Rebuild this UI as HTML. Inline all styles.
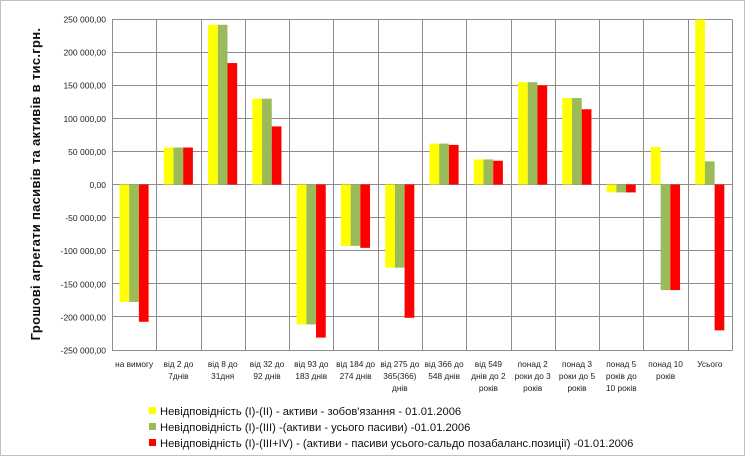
<!DOCTYPE html>
<html><head><meta charset="utf-8"><style>
html,body{margin:0;padding:0;background:#fff;}
svg{display:block;font-family:"Liberation Sans","DejaVu Sans",sans-serif;}
</style></head><body>
<svg width="745" height="456" viewBox="0 0 745 456" xmlns="http://www.w3.org/2000/svg">
<rect x="0.5" y="0.5" width="744" height="455" fill="#fff" stroke="#bfbfbf"/>
<g stroke="#8c8c8c" stroke-width="1">
<line x1="112" y1="19.5" x2="732" y2="19.5"/>
<line x1="112" y1="52.5" x2="732" y2="52.5"/>
<line x1="112" y1="85.5" x2="732" y2="85.5"/>
<line x1="112" y1="118.5" x2="732" y2="118.5"/>
<line x1="112" y1="151.5" x2="732" y2="151.5"/>
<line x1="112" y1="184.5" x2="732" y2="184.5"/>
<line x1="112" y1="217.5" x2="732" y2="217.5"/>
<line x1="112" y1="250.5" x2="732" y2="250.5"/>
<line x1="112" y1="283.5" x2="732" y2="283.5"/>
<line x1="112" y1="316.5" x2="732" y2="316.5"/>
<line x1="112" y1="350.5" x2="732" y2="350.5"/>
</g>
<g stroke="#8c8c8c" stroke-width="1" id="vg"></g>
<g id="bars"></g>
<g font-size="8.5" fill="#222" text-anchor="end" id="yl"></g>
<text transform="translate(40,184) rotate(-90)" text-anchor="middle" font-size="13" font-weight="bold" fill="#111" letter-spacing="0.3">Грошові агрегати  пасивів та активів  в тис.грн.</text>
<g font-size="8.3" fill="#222" text-anchor="middle" id="xl"></g>
<g font-size="11.2" fill="#111">
<rect x="149" y="407" width="7" height="7" fill="#ffff00"/>
<text x="160" y="415">Невідповідність (I)-(II) - активи - зобов'язання - 01.01.2006</text>
<rect x="149" y="423" width="7" height="7" fill="#9bbb59"/>
<text x="160" y="431">Невідповідність (I)-(III) -(активи - усього пасиви) -01.01.2006</text>
<rect x="149" y="439" width="7" height="7" fill="#ff0000"/>
<text x="160" y="447">Невідповідність (I)-(III+IV) - (активи - пасиви усього-сальдо позабаланс.позиції) -01.01.2006</text>
</g>
<script>
var ns="http://www.w3.org/2000/svg";
function el(t,a,p,txt){var e=document.createElementNS(ns,t);for(var k in a)e.setAttribute(k,a[k]);if(txt)e.textContent=txt;document.getElementById(p).appendChild(e);return e;}
var x0=112,w=620/14,z=184.5,s=165/250;
for(var i=0;i<=14;i++){var x=Math.round(x0+i*w)+0.5;el("line",{x1:x,y1:19.5,x2:x,y2:350.5},"vg");}
var d=[[-178,-178,-208],[56,56,56],[242,242,184],[130,130,88],[-212,-212,-232],[-93,-93,-96],[-126,-126,-202],[62,62,60],[38,38,36],[155,155,150],[131,131,114],[-12,-12,-12],[57,-160,-160],[250,35,-221]];
var c=["#ffff00","#9bbb59","#ff0000"];
d.forEach(function(r,i){r.forEach(function(v,j){var x=x0+i*w+7.5+j*9.7;var h=Math.abs(v)*s;el("rect",{x:x,y:v>0?z-h:z,width:9.7,height:h,fill:c[j]},"bars");});});
var labs=["250 000,00","200 000,00","150 000,00","100 000,00","50 000,00","0,00","-50 000,00","-100 000,00","-150 000,00","-200 000,00","-250 000,00"];
labs.forEach(function(l,i){el("text",{x:106,y:22.5+i*33.1},"yl",l);});
var xl=[["на вимогу"],["від 2 до","7днів"],["від 8 до","31дня"],["від 32 до","92 днів"],["від 93 до","183 днів"],["від 184 до","274 днів"],["від 275 до","365(366)","днів"],["від 366 до","548 днів"],["від 549","днів до 2","років"],["понад 2","роки до 3","років"],["понад 3","роки до 5","років"],["понад 5","років до","10 років"],["понад 10","років"],["Усього"]];
xl.forEach(function(a,i){a.forEach(function(t,k){el("text",{x:x0+i*w+w/2,y:367+k*12},"xl",t);});});
</script>
</svg>
</body></html>
